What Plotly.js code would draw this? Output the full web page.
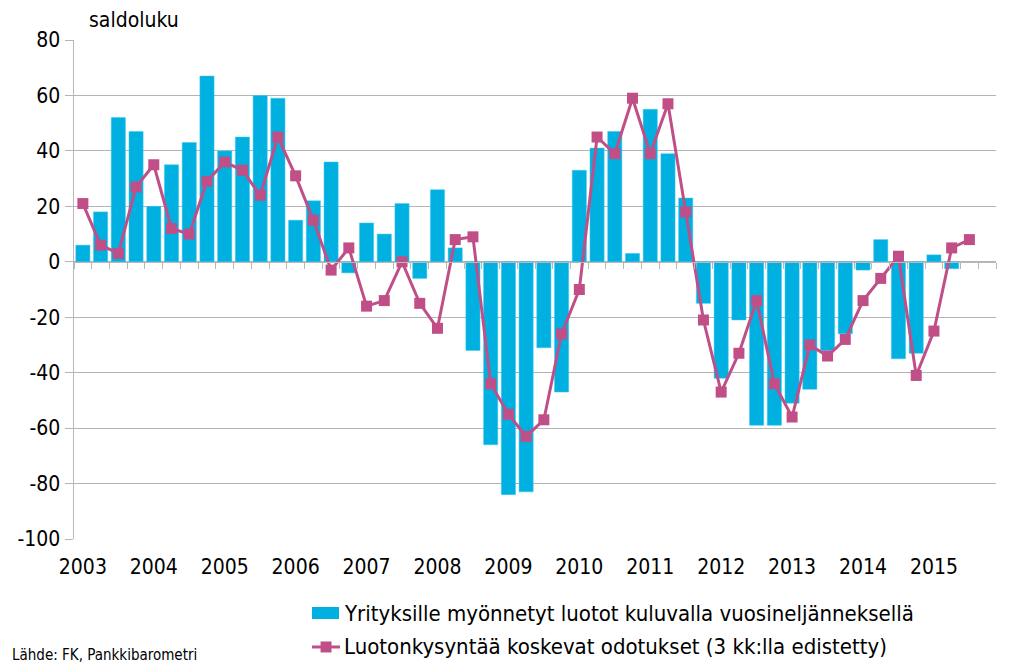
<!DOCTYPE html>
<html>
<head>
<meta charset="utf-8">
<script src="https://cdn.plot.ly/plotly-3.0.1.min.js"></script>
<style>html,body{margin:0;padding:0;background:#fff;}#chart{width:1024px;height:669px;}</style>
</head>
<body>
<div id="chart"></div>
<script>
// Quarterly data 2003Q1 ..
const quarterIndex = Array.from({length: 52}, (_, i) => i);
const yearLabels = ["2003","2004","2005","2006","2007","2008","2009","2010","2011","2012","2013","2014","2015"];
const yearTickIdx = [0,4,8,12,16,20,24,28,32,36,40,44,48];
const yTickVals = [-100,-80,-60,-40,-20,0,20,40,60,80];
const yTickText = ["-100","-80","-60","-40","-20","0","20","40","60","80"];
const barName = "Yrityksille myönnetyt luotot kuluvalla vuosineljänneksellä";
const lineName = "Luotonkysyntää koskevat odotukset (3 kk:lla edistetty)";
const barValues = [6,18,52,47, 20,35,43,67, 40,45,60,59, 15,22,36,-4,
  14,10,21,-6, 26,5,-32,-66, -84,-83,-31,-47, 33,41,47,3,
  55,39,23,-15, -42,-21,-59,-59, -51,-46,-32,-26, -3,8,-35,-33,
  2.5,-2.5];
const lineValues = [21,6,3,27, 35,12,10,29, 36,33,24,45, 31,15,-3,5,
  -16,-14,0,-15, -24,8,9,-44, -55,-63,-57,-26, -10,45,39,59,
  39,57,18,-21, -47,-33,-14,-44, -56,-30,-34,-28, -14,-6,2,-41,
  -25,5,8];

const font = "DejaVu Sans Condensed, DejaVu Sans, sans-serif";
const barColor = "#00B0E0";
const lineColor = "#C04F88";
const boundaries = Array.from({length: 53}, (_, i) => i - 0.5);

const traces = [
  {
    type: "bar",
    x: quarterIndex.slice(0, barValues.length),
    y: barValues,
    name: barName,
    marker: {color: barColor, line: {color: "#40C8F0", width: 0.5}},
    hoverinfo: "y"
  },
  {
    type: "scatter",
    mode: "lines+markers",
    x: quarterIndex.slice(0, lineValues.length),
    y: lineValues,
    name: lineName,
    line: {color: lineColor, width: 3},
    marker: {symbol: "square", size: 11, color: lineColor},
    hoverinfo: "y"
  },
  {
    type: "scatter", mode: "lines", x: [0], y: [0], xaxis: "x2",
    showlegend: false, hoverinfo: "skip", line: {width: 0}
  }
];

// legend drawn as paper-referenced shapes and annotations
const lgX0 = 0.2581, lgX1 = 0.2885, lgTextX = 0.2907;
const lgY1 = -0.1483, lgY2 = -0.2164;

const layout = {
  width: 1024, height: 669,
  margin: {l: 74, r: 28, t: 40, b: 130},
  paper_bgcolor: "#fff", plot_bgcolor: "#fff",
  font: {family: font, size: 20, color: "#000"},
  bargap: 0.2,
  showlegend: false,
  xaxis: {
    range: [-0.5, 51.5], automargin: false,
    tickmode: "array", tickvals: yearTickIdx, ticktext: yearLabels,
    showgrid: false, zeroline: false, showline: false, ticks: "",
    ticklabelstandoff: 13,
    tickfont: {family: font, size: 21, color: "#000"},
    fixedrange: true
  },
  xaxis2: {
    overlaying: "x", anchor: "free", position: 100/180, side: "bottom",
    range: [-0.5, 51.5], automargin: false,
    tickmode: "array", tickvals: boundaries, showticklabels: false,
    ticks: "outside", ticklen: 6, tickcolor: "#b8b8b8", tickwidth: 1,
    showline: true, linecolor: "#b8b8b8", linewidth: 1.5,
    showgrid: false, zeroline: false, fixedrange: true
  },
  yaxis: {
    range: [-100, 80], automargin: false,
    tickmode: "array", tickvals: yTickVals, ticktext: yTickText,
    showgrid: true, gridcolor: "#b4b4b4", gridwidth: 1,
    zeroline: false, showline: true, linecolor: "#b8b8b8", linewidth: 1.5,
    ticks: "outside", ticklen: 8, tickcolor: "#b4b4b4",
    tickfont: {family: font, size: 21, color: "#000"},
    fixedrange: true
  },
  shapes: [
    {type: "rect", xref: "paper", yref: "paper", x0: lgX0, x1: 0.2874,
     y0: lgY1 - 0.012, y1: lgY1 + 0.012, fillcolor: barColor, line: {width: 0}},
    {type: "line", xref: "paper", yref: "paper", x0: lgX0, x1: lgX1,
     y0: lgY2, y1: lgY2, line: {color: lineColor, width: 3}},
    {type: "rect", xref: "paper", yref: "paper", x0: 0.2674, x1: 0.2793,
     y0: lgY2 - 0.011, y1: lgY2 + 0.011, fillcolor: lineColor, line: {width: 0}}
  ],
  annotations: [
    {text: "saldoluku", xref: "paper", yref: "paper", x: 0.014, y: 1.04,
     xanchor: "left", yanchor: "middle", showarrow: false,
     font: {family: font, size: 21, color: "#000"}},
    {text: barName, xref: "paper", yref: "paper", x: lgTextX, y: lgY1,
     xanchor: "left", yanchor: "middle", showarrow: false,
     font: {family: font, size: 22, color: "#000"}},
    {text: lineName, xref: "paper", yref: "paper", x: lgTextX, y: lgY2,
     xanchor: "left", yanchor: "middle", showarrow: false,
     font: {family: font, size: 22, color: "#000"}},
    {text: "Lähde: FK, Pankkibarometri", xref: "paper", yref: "paper",
     x: -0.069, y: -0.233, xanchor: "left", yanchor: "middle", showarrow: false,
     font: {family: font, size: 15, color: "#000"}}
  ]
};

Plotly.newPlot("chart", traces, layout, {displayModeBar: false, staticPlot: true});
</script>
</body>
</html>
